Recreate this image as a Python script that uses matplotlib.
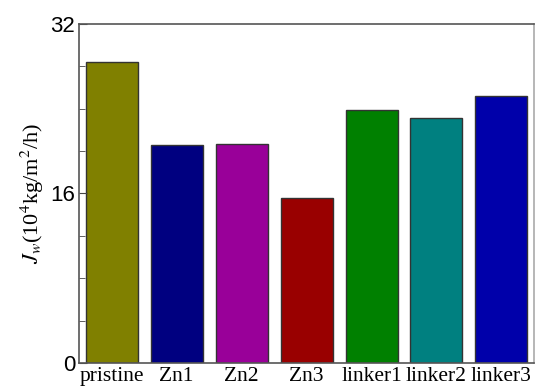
import matplotlib.pyplot as plt
from matplotlib.ticker import MultipleLocator

plt.rcParams['mathtext.fontset'] = 'stix'

# membrane samples and water flux
samples = ['pristine', 'Zn1', 'Zn2', 'Zn3', 'linker1', 'linker2', 'linker3']
flux = [28.4, 20.6, 20.7, 15.6, 23.9, 23.1, 25.2]
colors = ['#808000', '#000080', '#990099', '#990000', '#008000', '#008080', '#0000AA']

fig = plt.figure(figsize=(5.35, 3.92), dpi=100)
ax = fig.add_axes([0.148, 0.074, 0.850, 0.865])

x = range(len(samples))
ax.bar(x, flux, width=0.8, color=colors, edgecolor='#333333', linewidth=1.0)

ax.set_xlim(-0.5, len(samples) - 0.5)
ax.set_ylim(0, 32)
ax.set_xticks(list(x))
ax.set_xticklabels(samples, family='Liberation Serif', fontsize=15.5)
ax.tick_params(axis='x', length=0, pad=3)

ax.yaxis.set_major_locator(MultipleLocator(16))
ax.yaxis.set_minor_locator(MultipleLocator(4))
ax.tick_params(axis='y', which='both', direction='in', color='#444444')
ax.tick_params(axis='y', which='major', length=6, labelsize=16, pad=3)
ax.tick_params(axis='y', which='minor', length=4)
for lab in ax.get_yticklabels():
    lab.set_family('Liberation Sans')

ax.set_ylabel(r'$J_{w}$(10$^4$kg/m$^2$/h)', family='Liberation Serif', fontsize=16, labelpad=3)

for s in ax.spines.values():
    s.set_color('#555555')
    s.set_linewidth(1.2)
ax.spines['right'].set_color('#aaaaaa')

fig.savefig('out.png', dpi=100)
